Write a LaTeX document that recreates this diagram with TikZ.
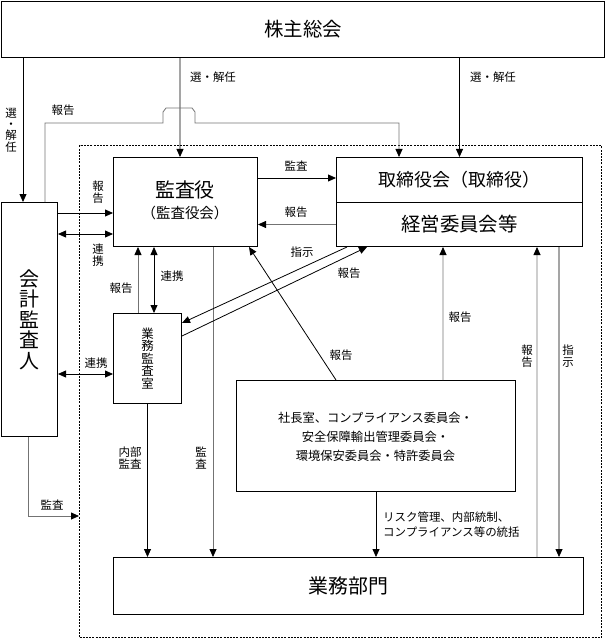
\documentclass[tikz,border=0pt]{standalone}
\usepackage{fontspec}
\setmainfont{Noto Sans CJK JP}
\usetikzlibrary{arrows.meta}
\tikzset{
  box/.style={draw, line width=1bp, inner sep=0pt, anchor=north west, align=center},
  frame/.style={draw, dash pattern=on 2bp off 1.2bp, line width=1bp, inner sep=0pt, anchor=north west},
  arr/.style={line width=0.8bp, -{Triangle[length=8bp,width=7bp,color=black]}},
  darr/.style={line width=0.8bp, {Triangle[length=8bp,width=7bp]}-{Triangle[length=8bp,width=7bp]}},
  plain/.style={line width=0.8bp},
  gl/.style={draw=black!55},
  lbl/.style={font=\fontsize{11.5}{12}\selectfont, inner sep=0pt, align=center},
  vlbl/.style={font=\fontsize{11.5}{11.5}\selectfont, inner sep=0pt, align=center},
}
\begin{document}
\begin{tikzpicture}[x=1bp, y=-1bp]
\useasboundingbox (0,0) rectangle (605,639);
% frame
\node[frame, minimum width=522bp, minimum height=492bp] (frame) at (79,145) {};
% boxes
\node[box, minimum width=603bp, minimum height=56bp, font=\fontsize{19.5}{20}\selectfont] (top) at (1,1) {株主総会};
\node[box, minimum width=56bp, minimum height=234bp, font=\fontsize{20}{20.5}\selectfont] (kaikei) at (1,202) {会\\計\\監\\査\\人};
\node[box, minimum width=144bp, minimum height=89bp] (kansa) at (113,157) {};
\node[font=\fontsize{20}{20}\selectfont, inner sep=0pt] (kansat) at (185,190) {監査役};
\node[font=\fontsize{14.5}{15}\selectfont, inner sep=0pt] (kansat2) at (185,213) {（監査役会）};
\node[box, minimum width=246bp, minimum height=45bp, font=\fontsize{18}{18}\selectfont] (tori1) at (336,157) {取締役会（取締役）};
\node[box, minimum width=246bp, minimum height=44bp, font=\fontsize{19.5}{20}\selectfont] (tori2) at (336,202) {経営委員会等};
\node[box, minimum width=68bp, minimum height=90bp, font=\fontsize{12.5}{12.5}\selectfont] (gmk) at (113,313) {業\\務\\監\\査\\室};
\node[box, minimum width=279bp, minimum height=111bp] (shacho) at (236,380) {};
\node[font=\fontsize{12.3}{19}\selectfont, inner sep=0pt, align=center] (shachot) at (375.5,437) {社長室、コンプライアンス委員会・\\安全保障輸出管理委員会・\\環境保安委員会・特許委員会};
\node[box, minimum width=470bp, minimum height=57bp, font=\fontsize{20}{20}\selectfont] (gyomu) at (113,557) {業務部門};

% top connectors
\draw[arr] ([xshift=22bp]top.south west) -- ([xshift=22bp]kaikei.north west);
\node[vlbl] (l1) at (11,130) {選\\・\\解\\任};
\draw[arr] ([xshift=179bp]top.south west) -- ([xshift=67bp]kansa.north west);
\node[lbl] (l2) at (213,77) {選・解任};
\draw[arr] (top.south -| tori1.north) -- (tori1.north);
\node[lbl] (l3) at (493,77) {選・解任};
% report route
\draw[arr, gl] ([xshift=44bp]kaikei.north west) |- (163,123) -- (163,112) -- (166,108) -- (192,108) -- (195,112) -- (195,123) -- (399,123) -- ([xshift=63bp]tori1.north west);
\node[lbl] (l4) at (63,110) {報告};
% kansa <-> tori
\draw[arr] ([yshift=-21bp]kansa.north east) -- ([yshift=-21bp]tori1.north west);
\node[lbl] (l5) at (296,166) {監査};
\draw[arr, gl] (tori2.west) -- (tori2.west -| kansa.east);
\node[lbl] (l6) at (296,212) {報告};
% kaikei -> kansa
\coordinate (k7) at ([yshift=-56bp]kansa.north west);
\draw[arr] (k7 -| kaikei.east) -- (k7);
\node[vlbl] (l7) at (98,192) {報\\告};
\coordinate (k8) at ([yshift=-77bp]kansa.north west);
\draw[darr] (k8 -| kaikei.east) -- (k8);
\node[vlbl] (l8) at (98,255) {連\\携};
% gmk <-> kansa
\draw[arr, gl] ([xshift=25bp]gmk.north west) -- ([xshift=25bp]kansa.south west);
\node[lbl] (l9) at (121,288) {報告};
\draw[darr] ([xshift=41bp]gmk.north west) -- ([xshift=41bp]kansa.south west);
\node[lbl] (l10) at (172,276) {連携};
\coordinate (k11) at ([yshift=-61bp]gmk.north west);
\draw[darr] (k11 -| kaikei.east) -- (k11);
\node[lbl] (l11) at (96,363) {連携};
% down to gyomu
\draw[arr, gl] ([xshift=100bp]kansa.south west) -- ([xshift=100bp]gyomu.north west);
\node[vlbl] (l12) at (201,458) {監\\査};
\draw[arr] (gmk.south) -- (gmk.south |- gyomu.north);
\node[lbl, font=\fontsize{11.5}{11.5}\selectfont] (l13) at (130,458) {内部\\監査};
\draw[arr, gl] ([xshift=27bp]kaikei.south west) |- ([yshift=-371bp]frame.north west);
\node[lbl] (l14) at (52,505) {監査};
% diagonals
\draw[arr] ([xshift=11bp]tori2.south west) -- ([yshift=-10bp]gmk.north east);
\node[lbl] (l15) at (302,252) {指示};
\draw[arr] ([yshift=-23bp]gmk.north east) -- ([xshift=31bp]tori2.south west);
\node[lbl] (l16) at (349,273) {報告};
\draw[arr] ([xshift=100bp]shacho.north west) -- ([xshift=-9bp]kansa.south east);
\node[lbl] (l17) at (341,355) {報告};
\draw[arr, gl] ([xshift=207bp]shacho.north west) -- ([xshift=107bp]tori2.south west);
\node[lbl] (l18) at (460,317) {報告};
\draw[arr, gl] ([xshift=424bp]gyomu.north west) -- ([xshift=201bp]tori2.south west);
\node[vlbl] (l19) at (527,356) {報\\告};
\draw[arr] ([xshift=223bp]tori2.south west) -- ([xshift=446bp]gyomu.north west);
\node[vlbl] (l20) at (568,356) {指\\示};
\draw[arr] (shacho.south) -- (shacho.south |- gyomu.north);
\node[font=\fontsize{11.5}{15}\selectfont, inner sep=0pt, align=left, anchor=west] (l21) at (383,525) {リスク管理、内部統制、\\コンプライアンス等の統括};
\end{tikzpicture}
\end{document}
